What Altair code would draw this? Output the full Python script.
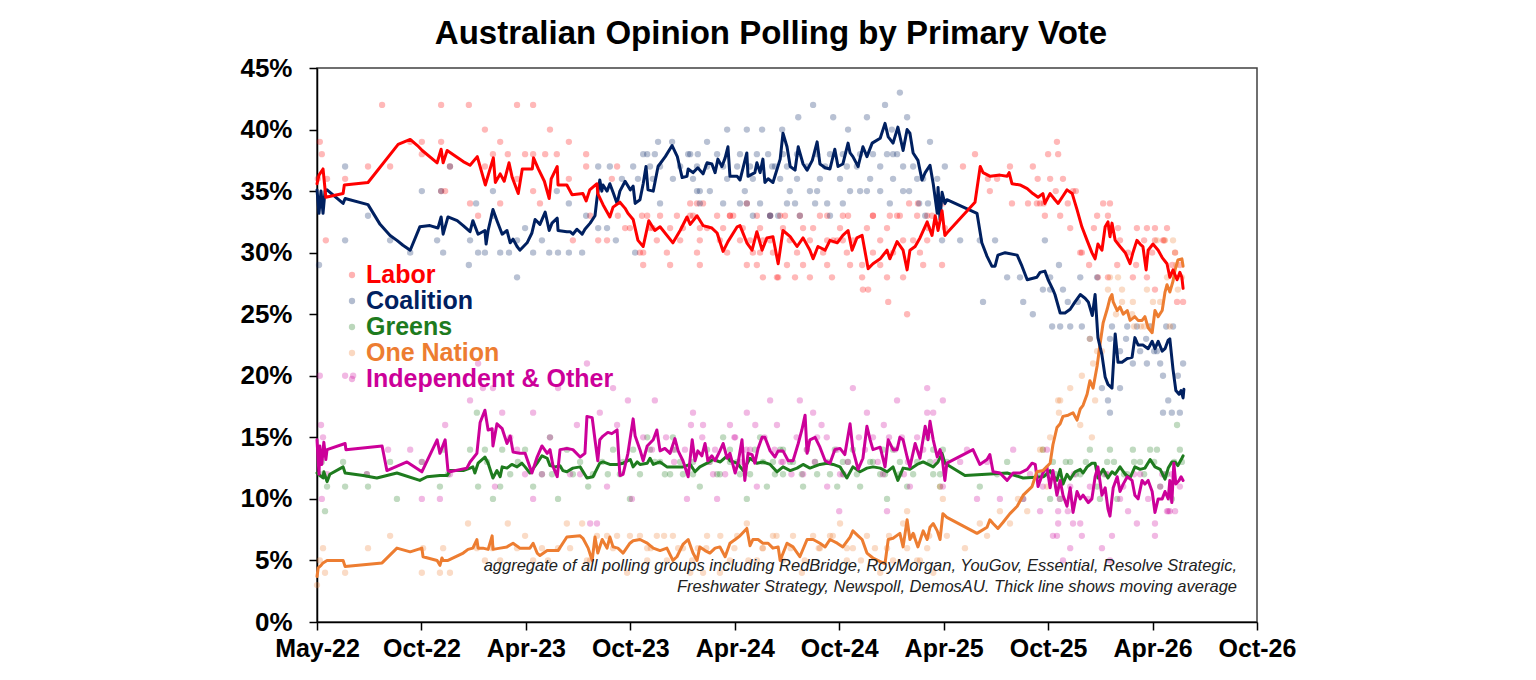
import altair as alt
import numpy as np
import pandas as pd

BASE_DATE = "2022-05-01"          # week 0 of all series below
PARTIES = ["Labor", "Coalition", "Greens", "One Nation", "Independent & Other"]
LINE_COLORS = ["#FF0000", "#002060", "#1E7B1E", "#ED7D31", "#CC0099"]
TICK_DATES = ["2022-05-01", "2022-10-30", "2023-04-30", "2023-10-29", "2024-04-28",
              "2024-10-27", "2025-04-27", "2025-10-26", "2026-04-26", "2026-10-25"]
Y_TICKS = [0, 5, 10, 15, 20, 25, 30, 35, 40, 45]
TITLE = "Australian Opinion Polling by Primary Vote"
NOTE_LINES = [
    "aggregate of all polling groups including RedBridge, RoyMorgan, YouGov, Essential, Resolve Strategic,",
    "Freshwater Strategy, Newspoll, DemosAU. Thick line shows moving average",
]

# ---- moving averages: (weeks since BASE_DATE, primary vote %) ----
LABOR_AVG = [(0.0,35.6),(0.5,36.3),(1.5,36.8),(2.2,34.5),(6.5,34.8),(6.8,35.5),(12.7,35.7),(20.2,38.8),(23.2,39.2),(25.0,38.7),(26.2,38.3),(29.9,37.3),(30.9,38.4),(31.4,37.3),(32.4,38.3),(36.4,37.4),(38.1,37.1),(39.9,37.8),(41.9,35.5),(43.9,37.7),(44.4,35.7),(45.6,36.4),(46.6,35.8),(47.8,37.3),(48.6,36.1),(50.1,34.8),(51.1,36.8),(53.6,36.8),(53.9,37.7),(55.1,36.8),(56.6,35.8),(57.8,34.4),(58.3,36.0),(59.8,37.0),(60.0,35.5),(62.2,35.5),(63.5,34.7),(66.2,34.8),(67.0,34.2),(67.9,35.1),(69.7,35.6),(69.9,34.8),(71.2,33.9),(72.9,32.9),(73.7,33.7),(75.4,34.1),(76.7,33.6),(77.4,33.2),(78.7,32.7),(79.9,31.0),(81.2,30.5),(82.6,32.6),(84.1,31.8),(85.4,32.1),(88.6,30.8),(90.4,31.8),(92.1,32.9),(92.9,32.3),(94.6,33.0),(96.1,32.2),(98.3,32.0),(99.6,31.6),(101.1,30.1),(102.3,30.9),(104.6,32.1),(105.3,32.2),(107.0,30.8),(108.3,30.2),(109.5,31.7),(110.8,30.2),(112.0,31.2),(113.5,31.3),(114.8,29.1),(116.0,31.8),(117.8,31.3),(119.5,30.5),(121.0,31.2),(122.7,30.2),(123.5,29.5),(124.7,30.5),(126.5,30.2),(127.7,31.0),(129.5,30.8),(130.9,31.4),(132.2,31.8),(133.2,30.2),(134.4,31.2),(135.7,31.4),(137.2,28.7),(138.4,29.1),(140.2,29.5),(141.9,30.2),(142.6,29.5),(144.4,30.9),(145.9,30.2),(146.9,28.6),(147.6,30.2),(148.9,30.5),(150.1,31.2),(151.9,32.5),(153.1,31.4),(153.9,33.0),(154.6,31.8),(155.6,33.4),(156.3,31.4),(156.8,31.6),(163.8,34.1),(165.1,37.0),(165.8,36.5),(167.6,36.2),(170.0,36.3),(171.8,36.2),(172.3,36.5),(173.0,35.6),(175.0,35.5),(176.8,35.2),(178.2,34.8),(179.5,34.5),(180.7,34.8),(181.2,34.0),(182.5,34.8),(183.7,34.3),(184.5,34.0),(185.7,34.6),(186.7,35.1),(188.0,34.8),(189.2,33.5),(190.4,32.1),(191.7,31.0),(192.9,30.0),(193.7,29.5),(194.4,30.7),(195.4,30.2),(196.2,32.1),(196.9,32.5),(197.4,31.3),(197.9,32.4),(198.7,31.0),(199.9,30.5),(201.2,30.0),(202.4,29.1),(203.1,30.0),(204.1,31.0),(204.9,30.7),(205.6,30.5),(206.4,28.6),(206.9,30.2),(208.1,30.7),(209.4,30.2),(210.4,29.6),(211.6,29.1),(212.3,28.0),(213.1,28.6),(214.1,27.8),(214.8,28.4),(215.3,28.0),(215.6,27.1)]

COALITION_AVG = [(0.0,35.1),(0.5,33.2),(1.0,35.0),(1.5,33.2),(2.0,35.0),(2.5,35.1),(6.5,34.0),(7.0,34.4),(12.7,33.9),(15.7,32.3),(18.2,31.4),(19.9,31.0),(21.4,30.6),(23.2,30.2),(25.6,32.1),(28.1,32.2),(30.1,32.0),(30.9,32.9),(31.4,31.5),(32.6,32.9),(34.9,32.6),(36.4,32.2),(38.1,31.7),(38.8,32.6),(40.1,31.5),(41.8,31.8),(42.1,30.7),(42.6,31.8),(43.8,33.5),(44.8,32.6),(46.1,31.5),(47.3,31.8),(48.1,30.8),(48.8,31.1),(49.8,30.5),(50.5,30.2),(52.3,30.8),(53.5,31.6),(54.3,32.7),(55.5,32.3),(56.8,33.3),(57.8,31.8),(58.5,32.4),(59.8,32.8),(60.0,31.8),(62.2,31.7),(63.0,31.7),(63.7,31.5),(64.7,31.9),(66.0,31.5),(66.7,31.9),(68.0,32.4),(69.2,33.0),(69.7,34.4),(70.4,35.9),(70.9,35.0),(71.2,35.5),(72.2,35.0),(72.9,35.6),(73.7,34.9),(74.7,34.0),(75.4,35.0),(76.7,35.8),(78.0,35.1),(78.7,35.4),(79.2,34.0),(80.4,34.3),(81.2,35.6),(81.9,37.0),(82.4,35.1),(83.7,35.0),(84.9,37.0),(86.7,37.8),(88.4,38.7),(89.7,37.8),(90.9,36.1),(92.1,36.2),(92.4,36.8),(93.6,36.5),(94.8,36.9),(96.1,36.4),(97.1,37.3),(98.3,37.2),(99.1,36.5),(99.8,37.6),(100.8,37.0),(101.6,37.7),(102.3,38.6),(102.8,36.2),(104.6,36.2),(105.3,35.9),(107.0,38.1),(107.3,36.2),(109.0,36.5),(109.5,37.3),(110.3,36.5),(111.0,37.6),(111.5,35.7),(112.3,36.0),(113.5,35.7),(115.3,37.6),(116.0,39.7),(117.0,38.6),(117.8,37.0),(119.0,36.7),(119.8,38.6),(121.0,37.2),(122.0,36.7),(123.3,37.5),(124.5,39.0),(125.2,37.2),(126.5,36.9),(127.7,36.8),(128.9,38.4),(129.7,37.0),(130.9,37.2),(132.2,38.9),(132.7,38.1),(133.4,37.8),(134.7,37.0),(135.9,38.6),(136.9,37.8),(138.2,38.9),(140.2,39.3),(141.4,40.5),(142.2,39.4),(143.4,38.9),(144.6,40.2),(145.9,38.3),(146.9,40.0),(147.6,39.7),(148.4,38.1),(149.6,37.5),(150.6,35.9),(151.4,36.5),(152.6,37.1),(153.4,35.6),(154.4,33.2),(154.6,35.3),(155.1,32.7),(155.6,34.9),(156.3,34.0),(156.8,34.3),(164.3,33.2),(165.5,30.8),(166.8,29.7),(168.0,28.9),(168.8,28.9),(169.5,29.8),(171.3,30.0),(174.3,29.8),(175.5,28.9),(176.8,27.8),(179.2,28.0),(180.0,28.4),(181.2,28.5),(182.0,27.8),(183.2,27.0),(183.7,26.6),(185.0,25.1),(186.2,25.1),(187.5,25.4),(188.7,26.0),(190.0,26.6),(191.2,26.3),(192.0,26.0),(193.0,24.9),(193.7,26.6),(194.4,23.1),(195.4,21.7),(196.2,19.9),(196.9,19.3),(197.9,19.0),(198.7,23.4),(199.4,21.1),(200.4,21.1),(201.7,21.4),(202.9,21.5),(203.6,23.1),(204.4,22.5),(205.6,22.5),(206.9,22.2),(207.9,22.8),(208.6,22.2),(209.4,22.8),(210.4,22.0),(211.1,22.2),(211.9,22.9),(212.3,23.0),(213.1,20.5),(213.8,18.8),(214.6,18.5),(215.1,18.8),(215.6,18.2),(215.8,18.9)]

GREENS_AVG = [(0.0,12.1),(1.5,11.7),(1.7,12.2),(2.5,11.4),(3.2,12.0),(6.5,12.6),(7.0,12.1),(11.5,11.9),(14.9,11.7),(17.4,11.9),(19.9,12.1),(25.6,11.5),(27.4,11.8),(30.6,11.9),(32.4,11.9),(33.1,12.3),(36.4,12.3),(38.1,12.5),(38.8,12.6),(39.3,12.1),(40.1,12.9),(41.8,13.4),(42.6,12.9),(43.8,11.7),(44.8,12.3),(45.6,11.8),(46.1,12.6),(47.3,12.5),(48.5,12.8),(49.8,12.6),(51.0,12.9),(51.8,12.6),(53.0,12.1),(54.8,12.9),(56.0,13.5),(57.3,13.3),(58.0,12.7),(59.3,12.6),(60.5,12.7),(61.2,12.3),(62.2,12.2),(63.7,12.5),(65.5,12.6),(67.2,11.7),(68.7,11.8),(70.4,12.9),(71.2,13.0),(72.9,12.8),(74.7,12.8),(76.2,12.9),(78.0,13.2),(78.7,12.6),(79.7,13.0),(80.4,12.8),(82.2,12.9),(82.9,13.3),(83.7,12.8),(85.4,13.0),(87.1,12.6),(88.6,12.6),(91.1,12.6),(92.9,12.8),(94.1,12.2),(95.3,12.6),(97.1,12.9),(98.6,13.2),(100.4,13.0),(102.1,13.5),(102.8,13.1),(104.6,12.9),(106.1,12.3),(107.8,13.3),(109.5,12.9),(111.0,13.0),(112.8,12.8),(114.5,12.2),(116.0,12.6),(117.8,12.3),(119.5,12.5),(121.0,12.8),(122.7,12.5),(125.2,12.8),(127.0,12.9),(128.5,12.8),(130.2,12.6),(131.9,11.7),(133.4,12.6),(135.2,12.2),(136.9,12.5),(138.4,12.6),(140.2,12.5),(141.9,12.2),(143.4,12.6),(144.6,11.5),(145.9,12.5),(147.6,12.4),(149.4,12.8),(150.9,13.0),(153.4,12.6),(154.6,13.0),(155.6,13.7),(156.3,12.9),(161.3,11.9),(171.8,12.1),(175.8,11.7),(180.9,11.8),(182.5,12.3),(183.2,11.9),(184.2,11.5),(185.0,12.4),(185.7,11.2),(186.7,12.0),(187.5,11.6),(188.7,12.2),(190.0,12.4),(190.7,12.1),(191.7,12.6),(192.9,12.9),(193.7,12.9),(194.4,11.7),(195.7,12.4),(196.9,11.7),(197.9,12.2),(198.7,12.0),(199.9,12.6),(201.2,12.0),(202.4,11.7),(203.6,12.6),(204.9,12.4),(206.1,12.5),(207.4,13.2),(208.6,12.6),(209.9,12.4),(211.1,11.6),(211.9,12.5),(212.8,13.0),(213.6,13.0),(214.3,12.7),(215.3,13.3),(215.6,13.5)]

ONE_NATION_AVG = [(0.0,3.7),(0.3,4.4),(1.0,4.6),(1.5,4.8),(2.5,5.0),(6.5,5.0),(7.0,4.5),(16.2,4.8),(19.9,6.0),(23.2,5.7),(26.1,6.0),(26.4,5.3),(29.9,5.0),(30.6,4.6),(31.1,5.2),(31.4,5.0),(32.6,5.0),(36.4,5.6),(37.6,5.9),(38.8,6.0),(39.8,6.7),(40.1,6.0),(41.3,6.0),(42.6,5.9),(43.6,7.0),(43.8,5.9),(45.6,6.0),(47.3,6.1),(48.8,6.4),(50.5,6.0),(53.0,6.0),(53.8,6.4),(54.8,5.6),(55.5,5.4),(57.3,5.8),(60.0,5.8),(62.2,6.9),(65.5,7.0),(66.2,6.8),(67.5,6.0),(68.5,5.0),(69.2,6.9),(69.9,5.6),(71.0,6.7),(72.2,6.0),(72.9,6.9),(73.7,6.1),(74.9,6.0),(76.2,5.6),(77.9,6.4),(78.7,6.6),(80.4,6.7),(82.2,6.4),(83.7,6.0),(85.4,5.8),(87.1,6.0),(88.6,5.0),(89.6,5.3),(91.1,6.3),(92.4,6.7),(93.6,5.6),(94.6,5.0),(95.3,6.1),(96.6,5.8),(97.8,5.6),(99.1,6.0),(100.3,6.1),(101.6,5.3),(102.8,6.4),(104.1,6.7),(105.3,7.0),(107.0,7.6),(107.8,6.2),(108.5,6.7),(109.8,6.7),(111.0,6.4),(112.3,6.4),(113.5,6.0),(114.8,6.1),(115.3,5.0),(117.0,6.4),(118.5,6.1),(120.2,5.3),(122.0,6.7),(123.5,6.7),(125.2,6.4),(126.5,6.1),(127.7,6.7),(129.5,6.4),(130.9,6.1),(132.7,6.9),(133.4,7.4),(134.7,7.0),(135.7,6.7),(136.9,5.6),(138.4,5.2),(140.2,4.9),(141.4,4.75),(142.2,6.7),(143.4,6.8),(145.1,7.2),(145.9,6.1),(146.9,8.3),(147.6,6.7),(148.4,7.2),(149.6,6.1),(150.9,7.4),(151.9,6.7),(152.6,7.7),(153.4,8.0),(154.4,7.4),(155.1,6.7),(155.8,8.8),(156.8,8.5),(164.3,7.2),(166.8,7.7),(167.5,8.3),(168.3,8.0),(169.5,7.6),(170.8,8.1),(172.5,8.8),(174.3,9.4),(175.8,10.3),(178.0,11.0),(179.2,12.2),(180.7,12.3),(182.5,12.9),(183.2,14.4),(184.2,15.8),(185.0,16.1),(185.7,16.7),(187.0,16.8),(188.2,17.0),(189.2,16.4),(190.0,17.3),(190.7,17.6),(191.7,18.5),(192.4,19.6),(193.2,19.0),(194.2,20.8),(194.9,22.5),(195.7,24.3),(196.7,25.4),(197.4,26.3),(197.9,26.6),(198.2,26.0),(199.2,25.3),(199.9,25.6),(200.7,25.0),(201.7,25.3),(202.4,24.5),(203.6,24.8),(204.4,24.5),(205.4,24.5),(206.1,24.8),(206.9,23.9),(207.9,23.5),(208.6,25.3),(209.4,24.8),(210.4,25.3),(211.1,26.8),(211.6,27.4),(212.3,26.8),(213.1,27.7),(213.6,28.6),(214.3,29.4),(215.3,29.5),(215.6,28.9)]

OTHER_AVG = [(0.0,14.8),(0.5,12.0),(0.7,14.3),(1.2,12.8),(1.7,14.6),(2.2,13.2),(2.5,14.0),(7.0,14.5),(7.2,14.0),(16.2,14.3),(17.4,12.3),(22.4,13.0),(26.1,12.2),(29.9,14.8),(30.6,13.7),(31.9,14.8),(32.6,12.3),(33.1,12.2),(37.3,12.5),(38.1,13.0),(39.8,13.7),(40.6,16.2),(41.8,17.2),(42.6,15.6),(43.6,15.7),(43.8,14.3),(44.8,16.1),(46.1,15.7),(47.3,14.5),(48.1,15.1),(48.8,13.8),(50.5,13.7),(51.8,13.7),(53.5,12.1),(54.8,13.4),(56.0,14.3),(57.3,13.7),(58.0,14.0),(58.8,12.6),(59.8,11.8),(60.5,14.0),(62.2,14.1),(63.7,14.0),(65.5,13.4),(66.7,13.7),(67.2,16.7),(68.5,16.6),(69.2,14.8),(69.9,13.1),(70.4,14.8),(71.2,15.1),(72.4,15.4),(73.4,15.3),(74.7,15.6),(75.4,11.9),(76.2,12.0),(77.4,13.7),(78.7,16.5),(79.2,15.1),(80.4,14.0),(81.2,13.1),(82.2,14.3),(83.7,14.8),(84.6,15.6),(85.4,13.9),(86.6,14.1),(87.9,13.7),(89.1,14.9),(89.9,13.9),(91.1,13.1),(92.4,11.8),(93.4,14.8),(94.1,13.1),(94.8,13.9),(95.8,13.5),(96.6,14.5),(97.3,13.1),(98.3,13.5),(99.1,13.1),(100.3,13.9),(101.1,14.5),(102.1,13.3),(102.8,13.7),(104.1,12.1),(104.8,12.9),(105.8,14.8),(106.5,11.5),(107.3,13.7),(108.3,13.6),(109.0,12.9),(109.8,14.1),(110.8,15.0),(111.5,15.0),(112.8,13.9),(114.0,13.4),(114.8,13.9),(116.0,13.9),(117.3,13.1),(118.5,13.1),(119.8,14.5),(120.7,15.6),(121.5,16.8),(122.0,13.7),(122.7,14.8),(124.0,15.0),(125.2,14.2),(126.5,13.1),(127.7,12.9),(128.9,14.0),(130.2,14.1),(131.4,13.6),(132.7,16.1),(133.4,14.0),(134.7,12.4),(135.9,13.3),(136.9,15.9),(137.7,14.8),(138.4,14.0),(140.2,14.2),(141.4,12.6),(142.2,14.8),(143.4,14.0),(144.4,14.0),(145.1,15.0),(145.9,14.8),(146.9,13.4),(147.6,12.6),(148.9,14.5),(150.1,13.3),(151.4,15.9),(152.1,14.8),(152.6,16.3),(153.4,14.8),(154.4,13.4),(155.1,14.0),(155.6,13.4),(156.3,11.5),(156.8,12.9),(163.3,14.0),(165.0,12.8),(166.8,13.2),(167.5,13.6),(168.3,12.2),(170.0,12.1),(171.8,11.5),(173.3,12.1),(175.0,12.1),(176.8,12.4),(178.0,12.9),(178.8,12.8),(179.5,11.0),(180.7,12.1),(181.7,12.6),(182.5,10.9),(183.2,12.3),(184.2,10.3),(185.0,11.5),(185.7,10.3),(186.7,9.4),(187.5,10.9),(188.2,8.9),(189.2,10.6),(190.0,10.0),(190.7,10.3),(192.0,9.7),(192.9,10.0),(193.7,11.8),(194.4,12.6),(195.4,10.3),(196.2,10.9),(196.9,9.2),(197.4,8.6),(198.2,10.9),(199.2,11.8),(199.9,10.6),(200.7,11.2),(201.7,11.8),(202.9,11.5),(203.6,10.3),(204.4,10.0),(205.4,11.5),(206.1,11.2),(206.9,11.5),(207.9,10.6),(208.6,8.9),(209.4,10.0),(210.4,10.0),(211.1,10.6),(211.9,10.0),(212.3,11.5),(212.8,9.7),(213.3,12.9),(213.8,11.2),(214.6,11.5),(215.1,11.8),(215.6,11.5)]

# ---- individual polls: (weeks since BASE_DATE, primary vote %) ----
LABOR_POLLS = [(0.2,36),(0.7,39),(1.2,38),(2.2,31),(2.5,36),(7.0,36),(12.7,37),(16.2,42),(18.2,37),(23.2,39),(26.1,39),(26.1,38),(30.9,42),(30.9,39),(30.9,35),(31.9,35),(33.1,37),(37.8,42),(38.1,34),(40.1,33),(41.8,40),(41.8,37),(43.8,38),(45.6,39),(45.6,34),(47.5,38),(49.8,42),(49.8,36),(51.8,38),(53.8,42),(53.8,38),(53.8,35),(55.5,34),(56.8,38),(58.0,40),(59.7,38),(62.7,39),(62.7,36),(63.7,31),(67.0,38),(67.0,37),(68.0,33),(70.0,31),(72.2,31),(73.4,36),(74.7,37),(74.9,33),(76.7,32),(77.9,32),(80.4,30),(81.2,29),(80.9,33),(82.9,32),(87.9,29),(92.9,34),(93.6,33),(94.6,34),(95.3,32),(96.1,34),(102.8,33),(103.6,33),(107.0,34),(107.0,29),(107.8,31),(109.5,33),(110.3,30),(111.0,28),(112.8,31),(114.5,28),(114.8,28),(116.5,33),(119.0,28),(121.0,29),(122.7,28),(125.2,33),(127.0,31),(128.2,28),(129.5,31),(130.9,31),(132.2,33),(132.7,29),(135.7,29),(135.7,28),(135.9,27),(137.2,27),(138.4,33),(141.9,28),(142.2,26),(142.6,33),(144.4,33),(145.9,28),(146.9,25),(147.4,34),(148.4,31),(149.6,34),(150.9,29),(151.9,33),(152.1,32),(153.1,33),(155.6,29),(155.8,34),(156.3,32),(160.8,37),(163.8,38),(167.0,36),(167.5,35),(169.3,36),(172.5,37),(173.0,34),(177.0,34),(178.2,37),(179.2,34),(180.0,34),(181.2,33),(182.0,38),(182.5,36),(184.2,39),(184.5,38),(185.0,33),(185.7,36),(187.5,32),(188.2,35),(190.0,30),(190.4,30),(192.2,29),(194.2,33),(194.4,28),(195.7,34),(196.9,33),(196.9,28),(197.4,34),(199.2,29),(199.4,32),(203.1,28),(204.1,32),(206.6,32),(206.6,28),(208.6,27),(208.6,31),(208.6,32),(210.6,31),(211.6,32),(213.6,30),(214.1,26),(215.6,26),(214.8,29),
               (82.2,33),(85.4,33),(89.6,33),(92.9,33),(99.6,33),(102.8,33),(112.8,33),(115.3,33),(120.2,33),(127.0,33),(130.9,33),(138.4,33),(145.1,33),(149.4,33),
               (83.6,32),(87.9,32),(91.1,32),(97.1,32),(101.1,32),(106.0,32),(110.3,32),(116.0,32),(121.0,32),(123.5,32),(130.2,32),(136.9,32),(141.9,32),
               (84.6,31),(90.4,31),(95.3,31),(100.3,31),(105.3,31),(111.0,31),(117.7,31),(122.7,31),(128.5,31),(133.4,31),(140.2,31),(145.9,31),(151.9,31),
               (81.2,30),(87.1,30),(94.6,30),(102.1,30),(108.5,30),(113.5,30),(119.5,30),(126.0,30),(131.9,30),(138.4,30),(143.4,30),(150.1,30),
               (95.3,29),(109.5,29),(117.0,29),(127.0,29),(140.2,29),
               (199.9,31),(205.9,31),(210.9,31),(201.9,30),(207.9,30),(203.9,29),(212.9,29),(193.4,32),(197.4,32),(180.9,34),(186.9,34),(183.9,35),(188.9,35),(179.4,36)]

COALITION_POLLS = [(0.5,29),(7.0,37),(7.0,31),(12.7,33),(18.2,31),(23.2,30),(26.1,35),(29.9,31),(30.9,35),(31.4,30),(33.1,37),(37.8,29),(38.1,31),(39.6,34),(40.1,30),(41.8,30),(43.8,35),(43.8,33),(45.6,30),(47.8,30),(49.8,28),(49.8,31),(51.8,32),(53.8,30),(56.0,31),(57.8,30),(59.7,35),(60.0,30),(62.7,34),(62.7,30),(66.0,30),(67.0,33),(70.0,37),(70.0,32),(72.2,32),(72.9,37),(74.4,31),(75.9,36),(78.7,37),(79.2,30),(79.9,36),(81.2,38),(84.9,39),(88.4,39),(92.4,38),(94.6,35),(95.3,35),(97.1,39),(101.1,34),(102.1,40),(105.3,34),(107.0,40),(107.0,34),(108.5,33),(110.8,40),(112.8,33),(114.0,37),(114.8,33),(115.8,40),(117.0,34),(119.0,34),(119.8,41),(122.7,35),(123.5,42),(124.5,35),(127.0,34),(128.5,41),(130.9,34),(132.2,40),(135.2,35),(136.9,41),(136.9,35),(141.4,42),(141.9,38),(143.1,40),(144.4,38),(145.1,43),(145.9,35),(146.9,41),(147.4,35),(149.9,34),(150.9,36),(152.1,34),(152.6,39),(154.4,36),(155.6,31),(156.3,37),(160.1,31),(165.0,31),(165.8,26),(168.8,31),(171.8,28),(175.0,28),(175.8,26),(178.2,25),(180.7,27),(181.2,31),(182.5,28),(182.5,27),(183.0,24),(184.7,29),(185.0,24),(185.7,27),(187.5,24),(190.0,28),(190.4,24),(192.4,23),(194.2,28),(195.4,19),(196.9,18),(197.4,23),(197.4,17),(199.9,19),(201.7,24),(203.1,21),(204.1,24),(206.6,21),(207.4,24),(209.1,22),(209.9,21),(210.6,17),(210.6,20),(211.9,18),(212.8,17),(213.1,24),(214.3,20),(214.8,17),(215.6,21),
                   (82.2,38),(84.1,38),(92.9,38),(94.8,38),(99.6,38),(105.3,38),(109.5,38),(112.3,38),(116.0,38),(119.5,38),(124.5,38),(127.7,38),(130.9,38),(135.2,38),(138.4,38),(143.4,38),
                   (82.9,37),(85.4,37),(90.4,37),(94.6,37),(97.1,37),(101.1,37),(104.6,37),(107.8,37),(113.3,37),(117.0,37),(122.0,37),(126.5,37),(131.9,37),(134.4,37),(140.2,37),(145.9,37),(148.4,37),
                   (83.6,36),(88.6,36),(93.6,36),(102.1,36),(108.5,36),(115.3,36),(119.5,36),(125.2,36),(130.2,36),(137.7,36),(143.4,36),(149.4,36),
                   (97.8,35),(106.5,35),(117.7,35),(132.7,35),(140.2,35),(85.4,34),(95.3,34),(110.3,34),(124.0,34),(142.6,34),(112.8,33),(120.2,33),(127.7,33),(151.4,33),
                   (199.9,22),(204.9,22),(208.4,22),(201.4,23),(206.4,23),(197.9,24),(211.4,24),(186.9,26),(189.4,26)]

GREENS_POLLS = [(0.7,12),(1.2,13),(2.0,9),(2.5,11),(7.0,11),(6.5,13),(12.4,12),(12.7,11),(18.2,13),(19.9,10),(26.1,13),(30.6,11),(31.4,14),(32.6,12),(38.1,14),(39.8,17),(40.1,11),(41.8,14),(42.3,13),(43.8,10),(45.6,11),(46.1,14),(48.1,12),(50.0,13),(51.8,14),(53.8,11),(56.0,12),(58.0,15),(58.5,12),(60.0,10),(62.2,14),(63.7,12),(65.5,13),(67.5,11),(68.7,12),(71.0,13),(72.4,12),(73.7,14),(75.4,12),(76.2,13),(77.9,10),(78.7,14),(80.4,12),(82.2,15),(82.9,14),(85.4,13),(87.9,12),(88.6,15),(91.1,12),(93.6,13),(95.3,11),(97.1,14),(99.6,12),(101.1,15),(102.8,13),(105.3,12),(107.0,10),(109.0,14),(110.3,15),(112.0,11),(113.5,13),(115.3,14),(116.0,12),(118.5,13),(121.0,11),(122.0,14),(124.5,12),(127.0,13),(129.5,11),(130.9,12),(132.2,13),(133.4,14),(135.2,11),(138.4,13),(140.2,12),(141.9,10),(143.4,14),(145.1,12),(146.9,11),(149.4,13),(151.9,15),(153.4,12),(155.1,11),(155.8,14),(156.8,13),(165.0,11),(169.3,12),(171.8,13),(175.8,10),(180.0,12),(180.7,14),(181.7,12),(182.5,10),(183.2,13),(184.2,11),(185.0,10),(187.5,13),(190.0,12),(192.4,14),(194.2,11),(194.9,10),(196.7,13),(197.4,14),(199.2,10),(201.7,12),(203.1,14),(204.9,13),(207.4,14),(209.1,14),(209.9,11),(211.6,12),(212.8,10),(214.1,16),(214.8,14),(215.3,13),
                (84.1,13),(90.4,13),(97.8,13),(104.6,13),(111.0,13),(117.7,13),(124.0,13),(130.9,13),(137.7,13),(145.1,13),(152.6,13),
                (86.6,12),(93.6,12),(100.3,12),(107.8,12),(114.0,12),(120.7,12),(127.7,12),(134.4,12),(141.4,12),(148.4,12),(155.1,12),
                (89.1,14),(102.8,14),(116.0,14),(128.9,14),(140.9,14),(153.4,14),
                (183.9,12),(188.9,12),(195.9,12),(200.9,12),(205.9,12),(210.9,12),(186.4,13),(191.4,13),(198.4,13),(203.4,13),(208.4,13),(213.4,13)]

ONE_NATION_POLLS = [(0.0,3),(0.7,5),(1.5,6),(2.0,4),(7.0,4),(12.7,6),(18.2,7),(26.1,4),(26.4,6),(30.6,4),(31.4,6),(33.1,4),(37.6,8),(39.8,6),(41.8,5),(43.6,6),(45.6,5),(47.5,8),(49.8,6),(51.8,7),(53.8,5),(56.0,6),(57.5,5),(60.0,6),(62.2,8),(63.0,6),(66.0,8),(67.2,5),(68.0,5),(69.7,7),(72.2,7),(73.7,6),(74.7,7),(77.2,4),(77.9,7),(80.4,7),(82.2,5),(82.2,6),(84.6,7),(87.1,5),(88.6,7),(91.1,6),(92.9,4),(94.8,6),(96.1,4),(97.1,7),(100.3,4),(102.8,5),(104.6,7),(107.0,8),(109.5,5),(111.0,6),(113.5,7),(116.0,5),(118.5,7),(120.7,4),(123.5,7),(125.2,6),(127.7,7),(130.2,8),(131.9,5),(133.4,6),(136.9,7),(140.2,4),(141.9,6),(143.4,5),(145.9,8),(146.9,9),(148.4,7),(150.1,5),(151.9,6),(153.4,4),(155.1,11),(155.8,10),(156.8,7),(161.3,6),(165.0,8),(166.8,7),(170.0,9),(172.5,8),(174.5,10),(176.8,9),(180.0,14),(180.7,14),(181.7,11),(182.5,15),(184.5,18),(184.7,17),(185.0,18),(187.5,19),(190.0,16),(190.4,20),(192.4,23),(192.9,15),(193.2,21),(193.7,18),(194.2,22),(196.9,27),(197.4,28),(199.4,28),(200.4,27),(203.1,26),(203.4,24),(205.1,24),(206.6,27),(207.4,24),(208.1,26),(209.1,31),(211.1,31),(211.6,28),(212.3,24),(213.1,31),(213.6,30),(214.3,27),(215.3,28),
                    (83.1,6),(89.9,6),(96.9,6),(103.9,6),(110.9,6),(117.9,6),(124.9,6),(131.9,6),(138.9,6),(146.9,6),
                    (86.4,7),(100.4,7),(114.4,7),(128.4,7),(142.4,7),(152.4,7),(93.4,5),(107.4,5),(121.4,5),(135.4,5),(149.4,5),
                    (198.9,25),(202.9,25),(200.4,26),(209.9,26),(205.9,24),(213.9,29),(195.4,22)]

OTHER_POLLS = [(0.7,20),(1.0,16),(1.5,15),(1.2,10),(2.5,12),(7.0,20),(9.0,20),(12.4,12),(17.7,14),(23.2,14),(26.1,10),(26.1,13),(30.6,10),(31.9,16),(33.1,12),(38.1,18),(40.1,21),(41.3,19),(43.8,19),(44.3,11),(46.1,17),(48.1,15),(49.8,14),(51.8,12),(53.8,17),(53.8,10),(56.0,12),(58.0,15),(60.0,19),(63.0,12),(64.7,16),(65.5,12),(67.2,21),(68.0,8),(69.7,8),(70.4,17),(72.2,11),(73.7,19),(74.7,16),(77.4,18),(78.4,10),(81.2,15),(84.1,18),(88.6,14),(92.1,10),(93.6,17),(96.1,16),(98.6,12),(99.6,10),(102.8,16),(104.1,15),(107.0,17),(107.8,14),(109.5,11),(112.8,18),(114.5,16),(116.0,13),(120.2,18),(121.0,12),(123.5,17),(124.5,15),(127.0,11),(130.0,9),(130.2,12),(133.4,19),(136.9,17),(138.4,15),(140.9,12),(141.9,9),(144.4,18),(145.6,15),(147.6,11),(151.9,19),(151.9,17),(153.4,17),(155.8,18),(155.8,11),(160.1,13),(161.8,14),(164.3,10),(166.8,13),(170.0,10),(173.3,14),(175.8,10),(177.5,12),(180.0,9),(180.7,11),(181.7,14),(183.2,7),(184.2,7),(184.5,8),(184.5,9),(185.7,5),(187.5,6),(187.5,11),(188.2,8),(190.0,8),(190.4,7),(192.4,11),(195.4,6),(196.7,12),(197.4,5),(197.9,7),(200.7,11),(204.1,8),(204.9,12),(208.6,8),(208.6,7),(209.9,11),(211.6,9),(212.3,9),(212.8,12),(213.6,9),(214.8,11),
               (83.4,14),(91.6,14),(99.1,14),(106.9,14),(113.9,14),(121.9,14),(129.4,14),(136.4,14),(143.9,14),(150.9,14),
               (86.9,15),(95.9,15),(103.9,15),(111.4,15),(119.4,15),(126.9,15),(134.9,15),(142.4,15),(149.4,15),
               (88.9,13),(97.6,13),(105.6,13),(115.6,13),(123.9,13),(132.1,13),(139.6,13),(147.1,13),(154.1,13),
               (93.1,16),(109.1,16),(125.6,16),(141.1,16),(101.6,12),(118.1,12),(131.1,12),(146.1,12),
               (184.9,10),(191.9,10),(199.9,10),(206.9,10),(188.4,12),(196.4,12),(203.4,12),(210.4,12),(186.9,9),(201.9,9),(211.9,9)]

AVG_SERIES = [LABOR_AVG, COALITION_AVG, GREENS_AVG, ONE_NATION_AVG, OTHER_AVG]
POLL_SERIES = [LABOR_POLLS, COALITION_POLLS, GREENS_POLLS, ONE_NATION_POLLS, OTHER_POLLS]


def frame(pairs, party):
    weeks = np.array([p[0] for p in pairs], dtype=float)
    dates = pd.Timestamp(BASE_DATE) + pd.to_timedelta(weeks * 7, unit="D")
    return pd.DataFrame({
        "date": dates.strftime("%Y-%m-%dT%H:%M:%SZ"),
        "pct": [p[1] for p in pairs],
        "party": party,
    })


def dt(s):
    y, m, d = (int(v) for v in s.split("-"))
    return alt.DateTime(year=y, month=m, date=d, utc=True)


FONT = "Liberation Sans"

x_enc = alt.X(
    "date:T",
    scale=alt.Scale(type="utc", domain=[dt(TICK_DATES[0]), dt(TICK_DATES[-1])]),
    axis=alt.Axis(values=[dt(s) for s in TICK_DATES],
                  labelExpr="utcFormat(datum.value, '%b-%y')",
                  title=None, tickSize=8, labelPadding=6, labelFontSize=25,
                  labelFlush=False, labelOverlap=False, grid=False),
)
y_enc = alt.Y(
    "pct:Q",
    scale=alt.Scale(domain=[0, 45], nice=False),
    axis=alt.Axis(values=Y_TICKS, labelExpr="datum.value + '%'", title=None,
                  tickSize=8, labelPadding=17, labelFontSize=26, grid=False),
)
color_scale = alt.Scale(domain=PARTIES, range=LINE_COLORS)

polls_df = pd.concat([frame(s, p) for s, p in zip(POLL_SERIES, PARTIES)], ignore_index=True)
dots = alt.Chart(polls_df).mark_circle(size=40, opacity=0.28).encode(
    x=x_enc, y=y_enc, color=alt.Color("party:N", scale=color_scale, legend=None)
)

layers = [dots]
for idx in [2, 4, 3, 1, 0]:
    df = frame(AVG_SERIES[idx], PARTIES[idx])
    layers.append(
        alt.Chart(df).mark_line(strokeWidth=3, color=LINE_COLORS[idx], strokeJoin="round",
                                strokeCap="round").encode(x=x_enc, y=y_enc)
    )

# in-plot legend
for i, (p, c) in enumerate(zip(PARTIES, LINE_COLORS)):
    ypos = 207 + 26 * i
    one = pd.DataFrame({"party": [p]})
    layers.append(alt.Chart(one).mark_circle(size=40, opacity=0.3, color=c).encode(
        x=alt.value(35), y=alt.value(ypos)))
    layers.append(alt.Chart(one).mark_text(text=p, align="left", baseline="middle", font=FONT,
                                           fontWeight="bold", fontSize=25, color=c).encode(
        x=alt.value(49), y=alt.value(ypos)))

for i, line in enumerate(NOTE_LINES):
    layers.append(alt.Chart(pd.DataFrame({"note": [line]})).mark_text(
        text=line, align="right", baseline="middle", font=FONT, fontStyle="italic",
        fontSize=16.5, color="#222222").encode(x=alt.value(920), y=alt.value(498 + 21 * i)))

chart = alt.layer(*layers).properties(
    width=940,
    height=554,
    title=alt.TitleParams(TITLE, font=FONT, fontSize=33, fontWeight="bold", color="black",
                          anchor="middle", dx=-16, offset=4),
    padding={"left": 317, "top": 68, "right": 279, "bottom": 58},
    autosize=alt.AutoSizeParams(type="none"),
).configure_view(
    stroke="#404040", strokeWidth=1.5
).configure_axis(
    domainColor="black", domainWidth=1.5, tickColor="black", tickWidth=1.5,
    labelFont=FONT, labelFontWeight="bold", labelColor="black",
)

chart.save("out.html", embed_options={"renderer": "svg", "actions": False})
